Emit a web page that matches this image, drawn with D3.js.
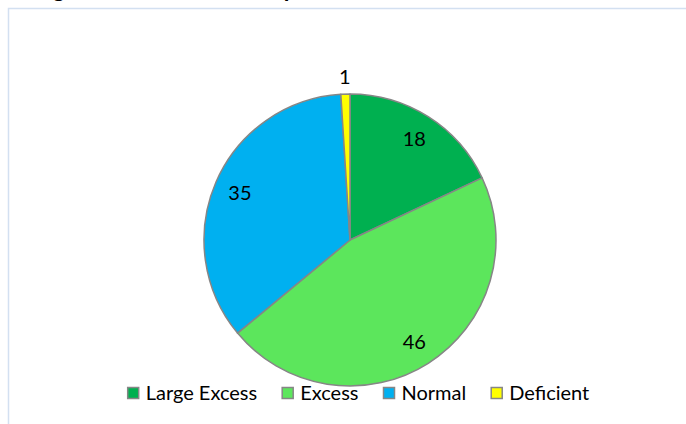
<!DOCTYPE html>
<html>
<head>
<meta charset="utf-8">
<script src="https://cdn.jsdelivr.net/npm/d3@7"></script>
<style>
  html, body { margin: 0; padding: 0; background: #fff; }
  svg { display: block; }
</style>
</head>
<body>
<svg id="chart" width="686" height="424"></svg>
<script>
const categories = ["Large Excess", "Excess", "Normal", "Deficient"];
const values = [18, 46, 35, 1];
const colors = ["#00b050", "#5ce65c", "#00b0f0", "#ffff00"];
const titleText = "Fig: Seasonal Rainfall Departure of Districts in Odisha";

const W = 686, H = 424;
const svg = d3.select("#chart");
const font = "Lato, 'Open Sans', sans-serif";

// chart frame (extends beyond right/bottom edge)
svg.append("rect")
  .attr("x", 8.5).attr("y", 8.5)
  .attr("width", 720).attr("height", 460)
  .attr("fill", "#fff")
  .attr("stroke", "#d3e0f1").attr("stroke-width", 1.5);

// title, cut off at the top as in the reference
svg.append("text")
  .attr("x", 34).attr("y", -3)
  .attr("font-family", font)
  .attr("font-weight", "bold")
  .attr("font-size", 23)
  .attr("fill", "#000")
  .text(titleText);

const cx = 350, cy = 240, r = 146;
const data = categories.map((c, i) => ({ name: c, value: values[i], color: colors[i] }));

const pie = d3.pie().sort(null).value(d => d.value).startAngle(0).endAngle(2 * Math.PI);
const arcs = pie(data);
const arc = d3.arc().innerRadius(0).outerRadius(r);
const labelArc = d3.arc().innerRadius(120).outerRadius(120);
const outArc = d3.arc().innerRadius(163).outerRadius(163);

const g = svg.append("g").attr("transform", `translate(${cx},${cy})`);
g.selectAll("path.slice")
  .data(arcs)
  .join("path")
  .attr("class", "slice")
  .attr("d", arc)
  .attr("fill", d => d.data.color)
  .attr("stroke", "#868686")
  .attr("stroke-width", 1.5)
  .attr("stroke-linejoin", "round");

g.selectAll("text.lbl")
  .data(arcs)
  .join("text")
  .attr("class", "lbl")
  .attr("transform", d => {
    const p = (d.data.value < 5 ? outArc : labelArc).centroid(d);
    return `translate(${p[0]},${p[1]})`;
  })
  .attr("text-anchor", "middle")
  .attr("dy", "0.36em")
  .attr("font-family", font)
  .attr("font-size", 20)
  .attr("fill", "#000")
  .text(d => d.data.value);

// legend
const legend = svg.append("g");
const items = legend.selectAll("g.item")
  .data(data)
  .join("g")
  .attr("class", "item");
items.append("rect")
  .attr("width", 11).attr("height", 11)
  .attr("y", 387.5)
  .attr("fill", d => d.color)
  .attr("stroke", "#868686").attr("stroke-width", 1.5);
items.append("text")
  .attr("y", 400)
  .attr("font-family", font)
  .attr("font-size", 20)
  .attr("fill", "#000")
  .text(d => d.name);

let x = 0;
const pos = [];
items.each(function() {
  const t = d3.select(this).select("text").node().getComputedTextLength();
  pos.push(x);
  x += 11 + 7 + t + 25;
});
const totalW = x - 25;
const startX = 358.5 - totalW / 2;
items.each(function(d, i) {
  const gi = d3.select(this);
  gi.select("rect").attr("x", startX + pos[i]);
  gi.select("text").attr("x", startX + pos[i] + 18);
});
</script>
</body>
</html>
